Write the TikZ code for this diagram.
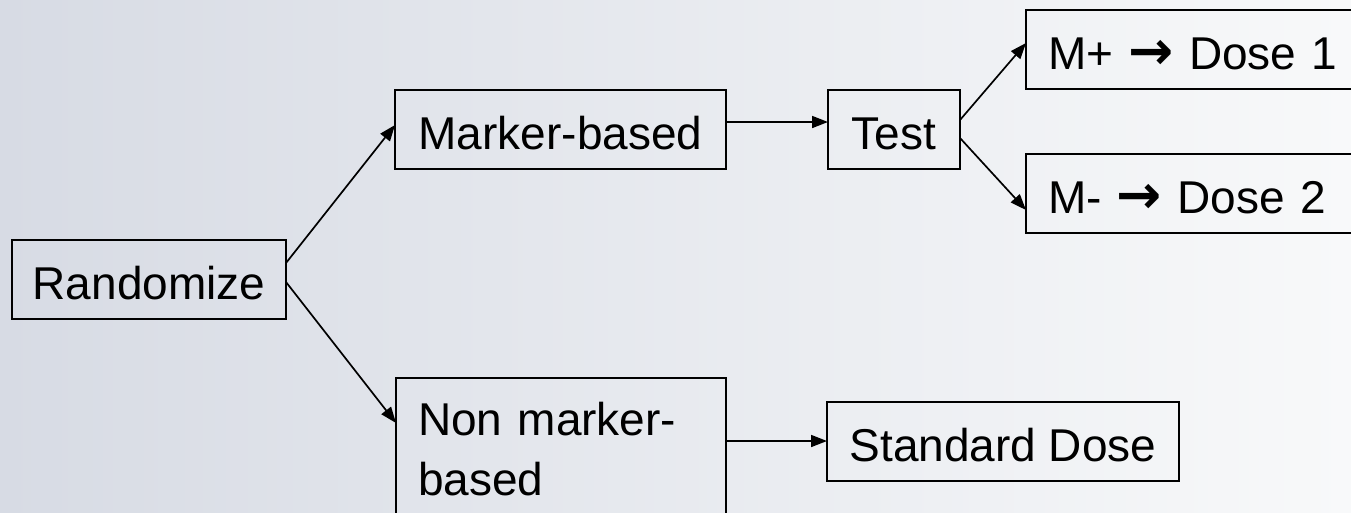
\documentclass[tikz,border=0pt]{standalone}
\usepackage{fontspec}
\setmainfont{Liberation Sans}
\newfontfamily\arrfont{DejaVu Sans}
\usetikzlibrary{calc,arrows.meta}
\definecolor{bgL}{HTML}{D7DBE4}
\definecolor{bgR}{HTML}{F8F9FA}
\tikzset{
  boxnode/.style={draw=black, line width=2.2pt, outer sep=0pt, anchor=north west,
    inner sep=0pt, minimum height=79pt, text height=49pt, text depth=10pt,
    font=\fontsize{46}{60}\selectfont},
  link/.style={line width=1.7pt, -{Triangle[length=16pt,width=12pt]}},
}
\newcommand{\ar}{{\arrfont\bfseries\fontsize{54}{60}\selectfont\symbol{"2192}}}
\begin{document}
\begin{tikzpicture}[x=1pt,y=-1pt]
\useasboundingbox (0,0) rectangle (1351,512);
\clip (0,0) rectangle (1351,512);
\shade[left color=bgL, right color=bgR] (0,0) rectangle (1351,512);

\node[boxnode, minimum width=274pt] (rand) at (12,240) {Randomize};
\node[boxnode, minimum width=331pt] (mk) at (395,90) {Marker-based};
\node[boxnode, minimum width=132pt] (test) at (828,90) {Test};
\node[boxnode, align=left, text width=292pt, inner xsep=22pt] (mp) at (1026,10) {M+ \ar\ Dose 1};
\node[boxnode, align=left, text width=292pt, inner xsep=22pt] (mm) at (1026,154) {M- \ar\ Dose 2};
\node[draw=black, line width=2.2pt, outer sep=0pt, anchor=north west, inner xsep=22pt, inner ysep=24pt,
  text width=286pt, align=left, font=\fontsize{46}{60}\selectfont] (nm) at (396,378) {Non marker-\\based};
\node[boxnode, minimum width=352pt] (std) at (827,402) {Standard Dose};

\draw[link] ($(rand.north east)+(0,23)$) -- ($(mk.north west)+(0,35)$);
\draw[link] ($(rand.north east)+(0,42)$) -- ($(nm.north west)+(0,45)$);
\draw[link] ($(mk.north east)+(0,32)$) -- ($(test.north west)+(0,32)$);
\draw[link] ($(test.north east)+(0,30)$) -- ($(mp.north west)+(0,33)$);
\draw[link] ($(test.north east)+(0,48)$) -- ($(mm.north west)+(0,56)$);
\draw[link] ($(nm.north east)+(0,63)$) -- ($(std.north west)+(0,39)$);
\end{tikzpicture}
\end{document}
